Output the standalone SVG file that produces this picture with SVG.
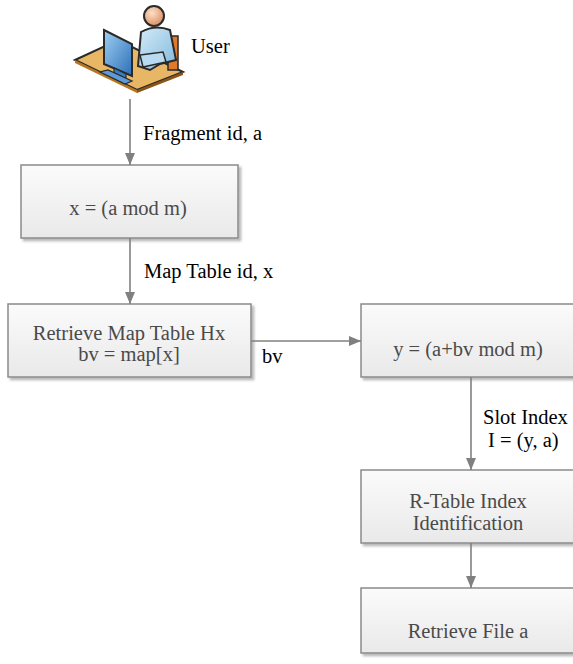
<svg xmlns="http://www.w3.org/2000/svg" width="573" height="664" viewBox="0 0 573 664">
  <defs>
    <linearGradient id="boxFill" x1="0" y1="0" x2="0" y2="1">
      <stop offset="0" stop-color="#fbfbfb"/>
      <stop offset="1" stop-color="#e9e9e9"/>
    </linearGradient>
    <linearGradient id="screen" x1="0" y1="0" x2="1" y2="1">
      <stop offset="0" stop-color="#9fd0f2"/>
      <stop offset="1" stop-color="#2c6fb8"/>
    </linearGradient>
    <linearGradient id="shirt" x1="0" y1="0" x2="1" y2="1">
      <stop offset="0" stop-color="#d6ecf8"/>
      <stop offset="1" stop-color="#7fb8dd"/>
    </linearGradient>
    <radialGradient id="face" cx="0.4" cy="0.35" r="0.7">
      <stop offset="0" stop-color="#fde0c8"/>
      <stop offset="1" stop-color="#d88b5f"/>
    </radialGradient>
    <marker id="arrow" viewBox="0 0 12 10" refX="12" refY="5" markerWidth="12" markerHeight="10" markerUnits="userSpaceOnUse" orient="auto">
      <path d="M0,0 L12,5 L0,10 z" fill="#808080"/>
    </marker>
    <filter id="shadow" x="-5%" y="-5%" width="115%" height="125%">
      <feDropShadow dx="2.5" dy="2.5" stdDeviation="1" flood-color="#000" flood-opacity="0.28"/>
    </filter>
  </defs>
  <style>
    .box { fill: url(#boxFill); stroke: #8a8a8a; stroke-width: 1.5; filter: url(#shadow); }
    .btxt { font-family: 'Liberation Serif', Tinos, 'Times New Roman', 'DejaVu Serif', serif; font-size: 20.5px; fill: #4a4a4a; text-anchor: middle; }
    .lbl { font-family: 'Liberation Serif', Tinos, 'Times New Roman', 'DejaVu Serif', serif; font-size: 20.5px; fill: #000; }
    .conn { stroke: #808080; stroke-width: 1.6; fill: none; marker-end: url(#arrow); }
  </style>

  <!-- user icon: person at a desk with a monitor -->
  <g id="user">
    <path d="M75,60 L118,40 L183,72 L137,90 Z" fill="#e8b765" stroke="#2a2a2a" stroke-width="2"/>
    <path d="M75,60 L137,90 L137,93 L75,63 Z" fill="#b8761e"/>
    <path d="M137,90 L183,72 L183,75 L137,93 Z" fill="#8a5416"/>
    <rect x="168" y="36" width="10" height="34" fill="#e07a2a" stroke="#2a2a2a" stroke-width="1.5"/>
    <path d="M141,32 Q155,24 170,30 L176,60 L160,64 L150,70 L138,66 Z" fill="url(#shirt)" stroke="#2a2a2a" stroke-width="2"/>
    <circle cx="154" cy="16" r="10" fill="url(#face)" stroke="#2a2a2a" stroke-width="2"/>
    <path d="M140,55 L163,52 L166,62 L143,67 Z" fill="#b8dbf1" stroke="#2a2a2a" stroke-width="1.5"/>
    <path d="M104,30 L132,44 L132,76 L104,64 Z" fill="url(#screen)" stroke="#2a2a2a" stroke-width="2"/>
    <path d="M114,68 L126,74 L126,80 L114,75 Z" fill="#3a7cc4" stroke="#2a2a2a" stroke-width="1.2"/>
    <path d="M100,72 L125,84 L132,81 L108,70 Z" fill="#5a9bd8" stroke="#2a2a2a" stroke-width="1.2"/>
    <text class="lbl" x="191" y="53">User</text>
  </g>

  <!-- process boxes -->
  <g id="mod">
    <rect class="box" x="21" y="165" width="217" height="73"/>
    <text class="btxt" x="128" y="215">x = (a mod m)</text>
  </g>
  <g id="maptable">
    <rect class="box" x="8" y="304" width="243" height="73"/>
    <text class="btxt" x="129" y="340">Retrieve Map Table Hx</text>
    <text class="btxt" x="129" y="361">bv = map[x]</text>
  </g>
  <g id="ymod">
    <rect class="box" x="361" y="304" width="220" height="73"/>
    <text class="btxt" x="468" y="356">y = (a+bv mod m)</text>
  </g>
  <g id="rtable">
    <rect class="box" x="361" y="470" width="220" height="73"/>
    <text class="btxt" x="468" y="508">R-Table Index</text>
    <text class="btxt" x="468" y="530">Identification</text>
  </g>
  <g id="retrieve">
    <rect class="box" x="361" y="588" width="220" height="65"/>
    <text class="btxt" x="468" y="638">Retrieve File a</text>
  </g>

  <!-- connectors -->
  <g id="connectors">
    <line class="conn" x1="130" y1="99" x2="130" y2="165"/>
    <line class="conn" x1="130" y1="238" x2="130" y2="304"/>
    <line class="conn" x1="251" y1="341" x2="361" y2="341"/>
    <line class="conn" x1="471" y1="377" x2="471" y2="470"/>
    <line class="conn" x1="471" y1="543" x2="471" y2="588"/>
    <text class="lbl" x="143" y="140">Fragment id, a</text>
    <text class="lbl" x="144" y="278">Map Table id, x</text>
    <text class="lbl" x="262" y="363">bv</text>
    <text class="lbl" x="483" y="424">Slot Index</text>
    <text class="lbl" x="488" y="447">I = (y, a)</text>
  </g>
</svg>
